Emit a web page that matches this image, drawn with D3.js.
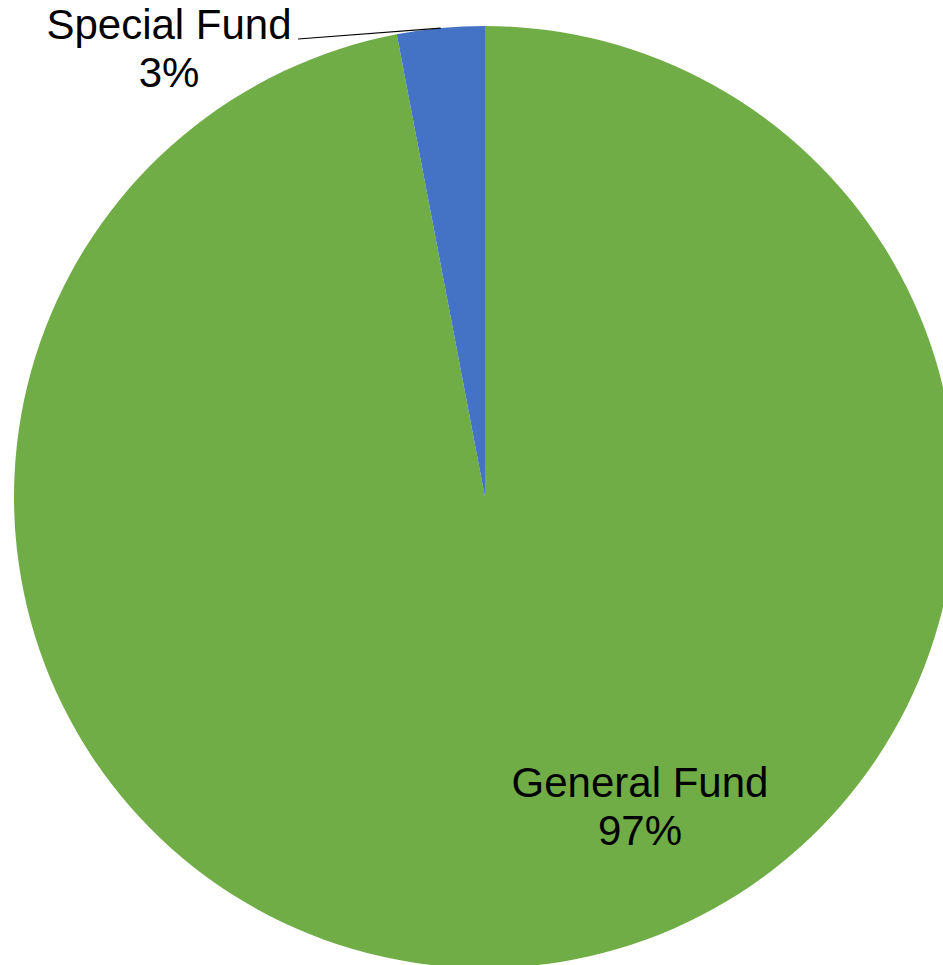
<!DOCTYPE html>
<html>
<head>
<meta charset="utf-8">
<script src="https://cdn.jsdelivr.net/npm/d3@7"></script>
<style>
  body { margin: 0; background: #fff; overflow: hidden; }
  text { font-family: "Liberation Sans", Arial, sans-serif; fill: #000; }
</style>
</head>
<body>
<svg id="chart" width="943" height="965"></svg>
<script>
// fund split data
var funds = ["General Fund", "Special Fund"];
var shares = [97, 3];
var colors = ["#70AD47", "#4472C4"];

var width = 943, height = 965;
var cx = 485, cy = 497, radius = 471;

var svg = d3.select("#chart");
var g = svg.append("g").attr("transform", "translate(" + cx + "," + cy + ")");

var data = funds.map(function(f, i) {
    return { name: f, value: shares[i], color: colors[i] };
});
var total = d3.sum(shares);

var pie = d3.pie().sort(null).value(function(d) { return d.value; });
var arc = d3.arc().innerRadius(0).outerRadius(radius);
var edgeArc = d3.arc().innerRadius(radius).outerRadius(radius);

var slices = pie(data);

g.selectAll("path.slice")
    .data(slices)
    .enter()
    .append("path")
    .attr("class", "slice")
    .attr("d", arc)
    .attr("fill", function(d) { return d.data.color; });

// label offsets relative to pie center (Excel best-fit placement)
var labelPos = {
    "General Fund": [155, 300],
    "Special Fund": [-316, -458]
};

slices.forEach(function(s) {
    var p = labelPos[s.data.name];
    var pct = Math.round(s.data.value / total * 100) + "%";
    var t = g.append("text")
        .attr("text-anchor", "middle")
        .style("font-size", "42px")
        .attr("x", p[0])
        .attr("y", p[1]);
    t.append("tspan").attr("x", p[0]).attr("dy", 0).text(s.data.name);
    t.append("tspan").attr("x", p[0]).attr("dy", 48).text(pct);
});

// leader line for the small slice
var small = slices[1];
var edge = edgeArc.centroid(small);
g.append("path")
    .attr("d", d3.line()([[-187, -458], edge]))
    .attr("fill", "none")
    .attr("stroke", "#000")
    .attr("stroke-width", 1.2);
</script>
</body>
</html>
